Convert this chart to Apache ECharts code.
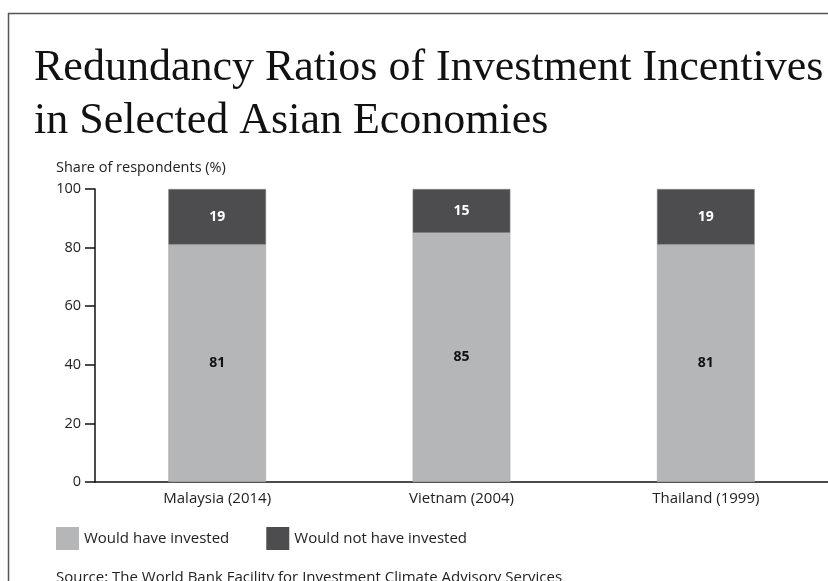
<!DOCTYPE html>
<html><head><meta charset="utf-8">
<script src="https://cdn.jsdelivr.net/npm/echarts@6/dist/echarts.min.js"></script>
<style>html,body{margin:0;padding:0;background:#fff}#c{width:828px;height:581px}</style>
</head><body><div id="c"></div>
<script>
const categories = ["Malaysia (2014)", "Vietnam (2004)", "Thailand (1999)"];
const wouldHave = [81, 85, 81];
const wouldNot = [19, 15, 19];
const seriesNames = ["Would have invested", "Would not have invested"];
const yTicks = [0, 20, 40, 60, 80, 100];

const sans = "Open Sans";
const chart = echarts.init(document.getElementById('c'));
chart.setOption({
  animation: false,
  backgroundColor: '#fff',
  title: {
    text: "Redundancy Ratios of Investment Incentives\nin Selected Asian Economies",
    left: 34, top: 42, padding: 0,
    textStyle: { fontFamily: "Liberation Serif", fontWeight: 'normal', fontSize: 44, lineHeight: 53, color: '#111' }
  },
  graphic: [
    { type: 'line', shape: { x1: 8, y1: 13.5, x2: 828, y2: 13.5 }, style: { stroke: '#555', lineWidth: 1.5 } },
    { type: 'line', shape: { x1: 8.5, y1: 13, x2: 8.5, y2: 581 }, style: { stroke: '#555', lineWidth: 1.5 } },
    { type: 'text', left: 56, top: 160, style: { text: "Share of respondents (%)", font: "14.5px '" + sans + "'", fill: '#222' } },
    { type: 'text', left: 56, top: 570, style: { text: "Source: The World Bank Facility for Investment Climate Advisory Services", font: "15px '" + sans + "'", fill: '#222' } }
  ],
  legend: {
    left: 56, top: 527, itemWidth: 23, itemHeight: 23, itemGap: 37, padding: 0,
    icon: 'rect',
    itemStyle: { borderWidth: 0 },
    textStyle: { fontFamily: sans, fontSize: 15, color: '#222' },
    data: seriesNames
  },
  grid: { left: 95, right: 0, top: 189, bottom: 99, containLabel: false },
  xAxis: {
    type: 'category', data: categories,
    axisLine: { lineStyle: { color: '#111', width: 1.5 } },
    axisTick: { show: false },
    axisLabel: { fontFamily: sans, fontSize: 15, color: '#222', margin: 9 }
  },
  yAxis: {
    type: 'value', min: 0, max: 100, interval: 20,
    axisLine: { show: true, lineStyle: { color: '#111', width: 1.5 } },
    axisTick: { show: true, length: 10, lineStyle: { color: '#111', width: 1.5 } },
    axisLabel: { fontFamily: sans, fontSize: 14.5, color: '#222', margin: 14,
      formatter: v => yTicks.includes(v) ? String(v) : '' },
    splitLine: { show: false }
  },
  series: [
    { name: seriesNames[0], type: 'bar', stack: 's', data: wouldHave, barWidth: '40%',
      itemStyle: { color: '#b5b6b8', borderColor: '#a6a7a9', borderWidth: 0.5 },
      label: { show: true, position: 'inside', fontFamily: sans, fontWeight: 'bold', fontSize: 14, color: '#111' } },
    { name: seriesNames[1], type: 'bar', stack: 's', data: wouldNot, barWidth: '40%',
      itemStyle: { color: '#4d4d4f', borderColor: '#8a8a8c', borderWidth: 0.5 },
      label: { show: true, position: 'inside', fontFamily: sans, fontWeight: 'bold', fontSize: 14, color: '#fff' } }
  ]
});
</script></body></html>
